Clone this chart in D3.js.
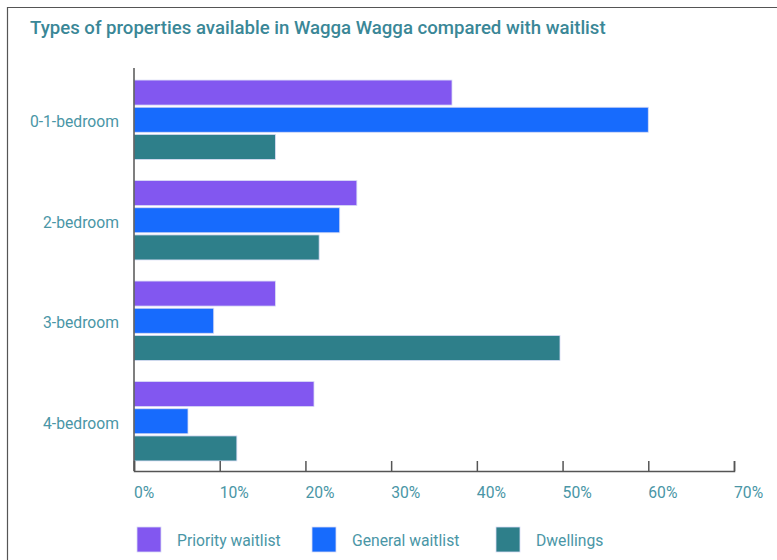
<!DOCTYPE html>
<html lang="en">
<meta charset="UTF-8">
<style>
    body{ margin:0; background:#fff; }
    text{ font-family:Roboto, "Liberation Sans", sans-serif; fill:#4a96a6; }
    text.title{ font-size:18.6px; font-weight:500; fill:#3a8797; }
    text.lab{ font-size:15.7px; }
</style>
<body>
<div id="chart"></div>
<script src="https://cdn.jsdelivr.net/npm/d3@7"></script>
<script>
    var categories = ["0-1-bedroom", "2-bedroom", "3-bedroom", "4-bedroom"];
    var seriesNames = ["Priority waitlist", "General waitlist", "Dwellings"];
    var priority = [37.1, 26.0, 16.5, 21.0];
    var general = [60.0, 24.0, 9.3, 6.3];
    var dwellings = [16.5, 21.6, 49.7, 12.0];
    var ticks = [0, 10, 20, 30, 40, 50, 60, 70];
    var colors = ["#8257f0", "#176bfd", "#2e7f8a"];

    var width = 777, height = 560;
    var series = [priority, general, dwellings];

    var svg = d3.select("#chart").append("svg")
        .attr("width", width)
        .attr("height", height);

    // frame
    svg.append("path")
        .attr("d", "M7.5,560 V7.5 H777")
        .attr("fill", "none")
        .attr("stroke", "#555")
        .attr("stroke-width", 1.2);

    svg.append("text")
        .attr("class", "title")
        .attr("x", 30)
        .attr("y", 34)
        .text("Types of properties available in Wagga Wagga compared with waitlist");

    var x = d3.scaleLinear().domain([0, 70]).range([134, 734]);
    var y = d3.scaleBand().domain(categories).range([70, 471])
        .paddingInner(0.21).paddingOuter(0.1);
    var ySub = d3.scaleBand().domain(d3.range(3)).range([0, y.bandwidth()]).paddingInner(0.08);

    var groups = svg.append("g").selectAll("g")
        .data(categories)
        .enter().append("g")
        .attr("transform", function(d){ return "translate(0," + y(d) + ")"; });

    groups.selectAll("rect")
        .data(function(d, i){ return series.map(function(s, k){ return {k:k, v:s[i]}; }); })
        .enter().append("rect")
        .attr("x", x(0))
        .attr("y", function(d){ return ySub(d.k); })
        .attr("width", function(d){ return x(d.v) - x(0); })
        .attr("height", ySub.bandwidth())
        .attr("fill", function(d){ return colors[d.k]; })
        .attr("stroke", "#d9dcf5")
        .attr("stroke-width", 0.8);

    groups.append("text")
        .attr("class", "lab")
        .attr("x", 119)
        .attr("y", y.bandwidth() / 2 + 2)
        .attr("dy", "0.35em")
        .attr("text-anchor", "end")
        .text(function(d){ return d; });

    // axes
    var axisColor = "#555";
    svg.append("line")
        .attr("x1", x(0)).attr("x2", x(0))
        .attr("y1", 68).attr("y2", 471)
        .attr("stroke", axisColor).attr("stroke-width", 1.5);

    var xAxis = svg.append("g").attr("transform", "translate(0,471)")
        .call(d3.axisTop(x).tickValues(ticks).tickSize(10).tickFormat(""));
    xAxis.select(".domain").attr("stroke", axisColor).attr("stroke-width", 1.5);
    xAxis.selectAll(".tick line").attr("stroke", axisColor).attr("stroke-width", 1.5);

    svg.append("g").selectAll("text")
        .data(ticks)
        .enter().append("text")
        .attr("class", "lab")
        .attr("x", function(d){ return x(d); })
        .attr("y", 498)
        .text(function(d){ return d + "%"; });

    // legend
    var legX = [137, 312, 496];
    var leg = svg.append("g").selectAll("g")
        .data(seriesNames)
        .enter().append("g")
        .attr("transform", function(d, i){ return "translate(" + legX[i] + ",527)"; });
    leg.append("rect")
        .attr("width", 24).attr("height", 25)
        .attr("fill", function(d, i){ return colors[i]; })
        .attr("stroke", "#d9dcf5").attr("stroke-width", 0.8);
    leg.append("text")
        .attr("class", "lab")
        .attr("x", 40)
        .attr("y", 14)
        .attr("dy", "0.35em")
        .text(function(d){ return d; });
</script>
</body>
</html>
